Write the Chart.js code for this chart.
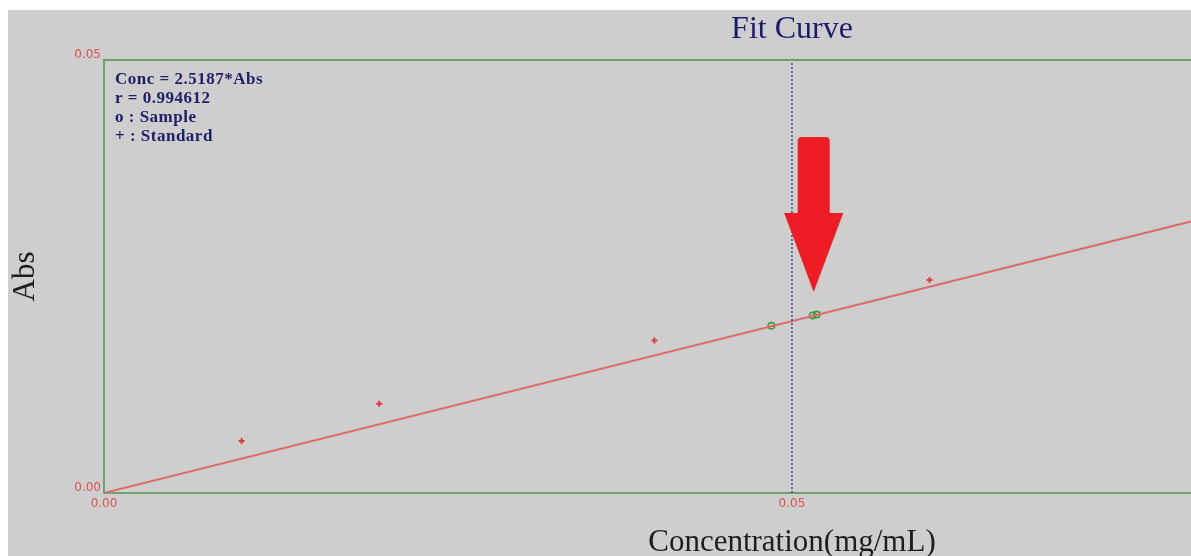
<!DOCTYPE html>
<html>
<head>
<meta charset="utf-8">
<title>Fit Curve</title>
<script src="https://cdn.jsdelivr.net/npm/chart.js@4.4.1/dist/chart.umd.min.js"></script>
<style>
  html, body { margin: 0; padding: 0; background: #ffffff; overflow: hidden; }
  #panel { position: absolute; left: 8px; top: 10px; width: 1183px; height: 546px; background: #cecece; overflow: hidden; }
  canvas { display: block; }
</style>
</head>
<body>
<div id="panel"><canvas id="fit" width="1189" height="546"></canvas></div>
<script>
// Calibration standards: concentration (mg/mL) vs absorbance
const stdConc = [0.01, 0.02, 0.04, 0.06];
const stdAbs = [0.0060, 0.0103, 0.0176, 0.0246];

// Measured samples
const sampleConc = [0.0485, 0.0515, 0.0518];
const sampleAbs = [0.0193, 0.0205, 0.0206];

// Fit result: Conc = slope * Abs
const fitSlope = 2.5187;
const fitR = 0.994612;

// Axis ticks and ranges
const concTicks = [0, 0.05];
const absTicks = [0, 0.05];
const concRange = [0, 0.079];
const absRange = [0, 0.05];
const concFullSpan = 0.1;      // nominal width of the concentration frame
const markerConc = 0.05;       // dotted reference line

const legendLines = [
  'Conc = ' + fitSlope + '*Abs',
  'r = ' + fitR,
  'o : Sample',
  '+ : Standard'
];

const green = '#70a070';
const tickRed = '#e05050';
const navy = '#1c1c6c';

const fitLine = concRange.map(c => ({ x: c, y: c / fitSlope }));
const standards = stdConc.map((c, i) => ({ x: c, y: stdAbs[i] }));
const samples = sampleConc.map((c, i) => ({ x: c, y: sampleAbs[i] }));
const marker = absRange.map(a => ({ x: markerConc, y: a }));

const decorations = {
  id: 'decorations',
  afterDatasetsDraw(chart) {
    const ctx = chart.ctx;
    const area = chart.chartArea;
    const xs = chart.scales.x;
    ctx.save();

    // top edge of the frame
    ctx.strokeStyle = green;
    ctx.lineWidth = 2;
    ctx.beginPath();
    ctx.moveTo(area.left - 1, area.top);
    ctx.lineTo(area.right + 2, area.top);
    ctx.stroke();

    // fit summary block
    ctx.fillStyle = '#20206a';
    ctx.font = 'bold 17px "Liberation Serif", "Times New Roman", serif';
    ctx.textAlign = 'left';
    ctx.textBaseline = 'middle';
    if ('letterSpacing' in ctx) ctx.letterSpacing = '0.5px';
    legendLines.forEach((t, i) => ctx.fillText(t, area.left + 11, area.top + 20 + i * 19));
    if ('letterSpacing' in ctx) ctx.letterSpacing = '0px';

    // arrow pointing at the sample group
    const tipX = xs.getPixelForValue((sampleConc[1] + sampleConc[2]) / 2) - 1;
    const tipY = chart.scales.y.getPixelForValue((sampleAbs[1] + sampleAbs[2]) / 2) - 23;
    const shaftHalf = 16, headHalf = 29.5, headLen = 79, shaftLen = 76, r = 4;
    const headBase = tipY - headLen;
    const top = headBase - shaftLen;
    ctx.fillStyle = '#ee1c24';
    ctx.beginPath();
    ctx.moveTo(tipX, tipY);
    ctx.lineTo(tipX - headHalf, headBase);
    ctx.lineTo(tipX - shaftHalf, headBase);
    ctx.lineTo(tipX - shaftHalf, top + r);
    ctx.quadraticCurveTo(tipX - shaftHalf, top, tipX - shaftHalf + r, top);
    ctx.lineTo(tipX + shaftHalf - r, top);
    ctx.quadraticCurveTo(tipX + shaftHalf, top, tipX + shaftHalf, top + r);
    ctx.lineTo(tipX + shaftHalf, headBase);
    ctx.lineTo(tipX + headHalf, headBase);
    ctx.closePath();
    ctx.fill();

    // titles
    const cx = xs.getPixelForValue(concFullSpan / 2);
    ctx.textAlign = 'center';
    ctx.textBaseline = 'middle';
    ctx.fillStyle = navy;
    ctx.font = '32px "Liberation Serif", "Times New Roman", serif';
    ctx.fillText('Fit Curve', cx, 20);

    ctx.fillStyle = '#1e1e1e';
    ctx.font = '31px "Liberation Serif", "Times New Roman", serif';
    ctx.fillText('Concentration(mg/mL)', cx, 533);

    ctx.translate(18, (area.top + area.bottom) / 2);
    ctx.rotate(-Math.PI / 2);
    ctx.fillText('Abs', 0, 0);
    ctx.restore();
  }
};

new Chart(document.getElementById('fit'), {
  type: 'scatter',
  data: {
    datasets: [
      {
        label: 'Reference',
        data: marker,
        showLine: true,
        borderColor: '#48488e',
        borderWidth: 1.5,
        borderDash: [2, 2],
        pointRadius: 0
      },
      {
        label: 'Fit',
        data: fitLine,
        showLine: true,
        borderColor: '#e06868',
        borderWidth: 2,
        pointRadius: 0
      },
      {
        label: 'Standard',
        data: standards,
        pointStyle: 'cross',
        pointRadius: 3,
        borderWidth: 2,
        borderColor: '#e23a3a',
        backgroundColor: '#e23a3a'
      },
      {
        label: 'Sample',
        data: samples,
        pointStyle: 'circle',
        pointRadius: 3.2,
        borderWidth: 1.6,
        borderColor: '#3d9a3d',
        backgroundColor: 'rgba(0,0,0,0)'
      }
    ]
  },
  options: {
    responsive: false,
    animation: false,
    layout: { padding: { left: 0, right: 0, top: 50, bottom: 0 } },
    plugins: {
      legend: { display: false },
      tooltip: { enabled: false },
      title: { display: false }
    },
    scales: {
      x: {
        type: 'linear',
        min: concRange[0],
        max: concRange[1],
        afterBuildTicks: s => { s.ticks = concTicks.map(v => ({ value: v })); },
        afterFit: s => { s.height = 63; },
        grid: { display: false, drawTicks: false },
        border: { display: true, color: green, width: 2 },
        ticks: {
          color: tickRed,
          padding: 4,
          maxRotation: 0,
          font: { family: '"DejaVu Sans", sans-serif', size: 12 },
          callback: v => v.toFixed(2)
        }
      },
      y: {
        type: 'linear',
        min: absRange[0],
        max: absRange[1],
        afterBuildTicks: s => { s.ticks = absTicks.map(v => ({ value: v })); },
        afterFit: s => { s.width = 96; },
        grid: { display: false, drawTicks: false },
        border: { display: true, color: green, width: 2 },
        ticks: {
          color: tickRed,
          padding: 3,
          labelOffset: -5,
          font: { family: '"DejaVu Sans", sans-serif', size: 12 },
          callback: v => v.toFixed(2)
        }
      }
    }
  },
  plugins: [decorations]
});
</script>
</body>
</html>
